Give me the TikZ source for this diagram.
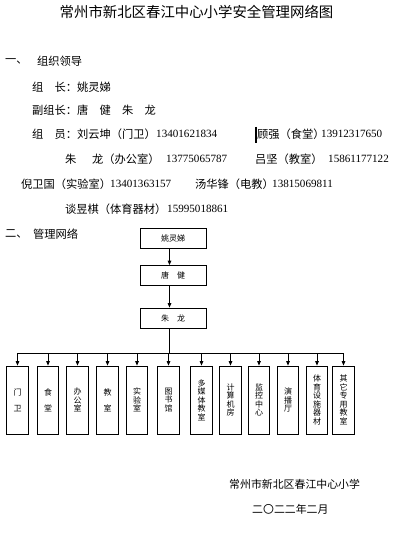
\documentclass[tikz,border=0pt]{standalone}
\usepackage{fontspec}
\setmainfont{Liberation Serif}
\newfontfamily\cjk{Noto Sans CJK SC}
\newfontfamily\num{Liberation Serif}
\usetikzlibrary{arrows.meta}
\tikzset{
  txt/.style={anchor=west, inner sep=0pt, font=\cjk\fontsize{11.25}{13}\selectfont},
  numtxt/.style={anchor=west, inner sep=0pt, font=\num\fontsize{11.1}{13}\selectfont},
  titletxt/.style={inner sep=0pt, font=\cjk\fontsize{14.4}{16}\selectfont},
  foottxt/.style={anchor=west, inner sep=0pt, font=\cjk\fontsize{10.9}{13}\selectfont},
  topbox/.style={draw, line width=0.8pt, minimum width=66pt, minimum height=20pt, inner sep=0pt, font=\cjk\fontsize{8}{9}\selectfont},
  vbox/.style={draw, line width=0.8pt, minimum width=21.5pt, minimum height=68pt, inner sep=0pt, align=center, font=\cjk\fontsize{8}{8.5}\selectfont},
  conn/.style={line width=0.8pt},
  arr/.style={conn, -{Triangle[length=4.5pt,width=3.6pt]}}
}
\begin{document}
\begin{tikzpicture}[x=1pt,y=-1pt]
\useasboundingbox (0,0) rectangle (415,545);
\fill[white] (0,0) rectangle (415,545);
% title
\node[titletxt] (title) at (196.5,12) {常州市新北区春江中心小学安全管理网络图};
% section one
\node[txt] (s1) at (5,61) {一、};
\node[txt] (s1t) at (37,61) {组织领导};
\node[txt] (l1) at (32,87) {组　长：姚灵娣};
\node[txt] (l2) at (32,110) {副组长：唐　健　朱　龙};
\node[txt] (l3a) at (32,134) {组　员：刘云坤（门卫）};
\node[numtxt] (l3b) at (156,134) {13401621834};
\draw[line width=1.5pt] (256,127) -- (256,143);
\node[txt] (l3c) at (257,134) {顾强（食堂）};
\node[numtxt] (l3d) at (321,134) {13912317650};
\node[txt] (l4a) at (65,159) {朱\hspace{4.5pt}　龙（办公室）};
\node[numtxt] (l4b) at (166,159) {13775065787};
\node[txt] (l4c) at (255,159) {吕坚（教室）};
\node[numtxt] (l4d) at (328,159) {15861177122};
\node[txt] (l5a) at (21,184) {倪卫国（实验室）};
\node[numtxt] (l5b) at (110,184) {13401363157};
\node[txt] (l5c) at (195,184) {汤华锋（电教）};
\node[numtxt] (l5d) at (272,184) {13815069811};
\node[txt] (l6a) at (65,209) {谈昱棋（体育器材）};
\node[numtxt] (l6b) at (167,209) {15995018861};
% section two
\node[txt] (s2) at (5,234) {二、};
\node[txt] (s2t) at (33,234) {管理网络};
% top chain
\node[topbox] (A) at (173,238) {姚灵娣};
\node[topbox] (B) at (173,275.5) {唐　健};
\node[topbox] (C) at (173,318) {朱　龙};
\coordinate (tx) at (169.5,0);
\coordinate (hl) at (0,353);
\draw[arr] (A.south -| tx) -- (B.north -| tx);
\draw[arr] (B.south -| tx) -- (C.north -| tx);
\draw[conn] (C.south -| tx) -- (hl -| tx);
% bottom boxes
\node[vbox] (b1) at (17.5,400) {门\\[7.5pt]卫};
\node[vbox] (b2) at (48,400) {食\\[7.5pt]堂};
\node[vbox] (b3) at (77.5,400) {办\\公\\室};
\node[vbox] (b4) at (107.5,400) {教\\[7.5pt]室};
\node[vbox] (b5) at (137,400) {实\\验\\室};
\node[vbox] (b6) at (168.5,400) {图\\书\\馆};
\node[vbox] (b7) at (201.5,400) {多\\媒\\体\\教\\室};
\node[vbox] (b8) at (230.5,400) {计\\算\\机\\房};
\node[vbox] (b9) at (259,400) {监\\控\\中\\心};
\node[vbox] (b10) at (288,400) {演\\播\\厅};
\node[vbox] (b11) at (317,400) {体\\育\\设\\施\\器\\材};
\node[vbox] (b12) at (343.5,400) {其\\它\\专\\用\\教\\室};
\draw[conn] (b1.north |- hl) -- (b12.north |- hl);
\foreach \b in {b1,b2,b3,b4,b5,b6,b7,b8,b9,b10,b11,b12}
  \draw[arr] (\b.north |- hl) -- (\b.north);
% footer
\node[foottxt] (f1) at (229,484) {常州市新北区春江中心小学};
\node[foottxt] (f2) at (252,509) {二〇二二年二月};
\end{tikzpicture}
\end{document}
